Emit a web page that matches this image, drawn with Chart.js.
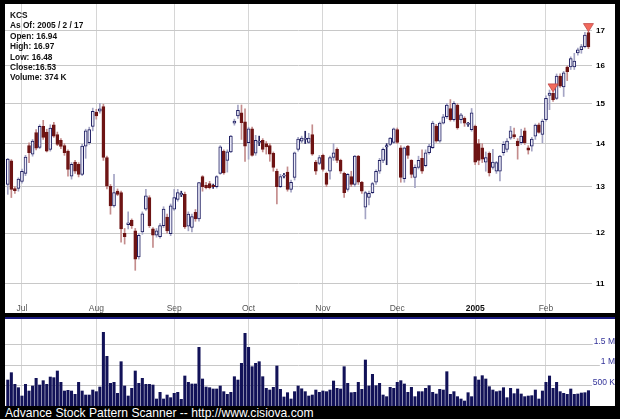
<!DOCTYPE html>
<html><head><meta charset="utf-8">
<script src="https://cdn.jsdelivr.net/npm/chart.js@4.4.0/dist/chart.umd.min.js"></script>
<style>
html,body{margin:0;padding:0;background:#000;width:620px;height:419px;overflow:hidden;}
#pw{position:absolute;left:5px;top:4px;width:610px;height:309px;background:#fff;}
#vw{position:absolute;left:5px;top:319px;width:610px;height:87px;background:#fff;}
#sep{position:absolute;left:5px;top:317px;width:610px;height:2px;background:#1a1a80;}
#info{position:absolute;left:10px;top:10px;font:bold 8.3px "Liberation Sans",Arial,sans-serif;line-height:10.4px;color:#111;}
#foot{position:absolute;left:5px;top:407px;font:12.1px "Liberation Sans",Arial,sans-serif;line-height:12px;color:#fff;white-space:nowrap;}
canvas{display:block;}
</style></head>
<body>
<div id="pw"><canvas id="pc" width="610" height="309"></canvas></div>
<div id="sep"></div>
<div id="vw"><canvas id="vc" width="610" height="87"></canvas></div>
<div id="info"></div>
<div id="foot">Advance Stock Pattern Scanner -- http://www.cisiova.com</div>
<script>
const ticker = 'KCS';
const asOf = '2005 / 2 / 17';
const monthIdx = [4, 25, 47, 68, 89, 110, 132, 152];
const monthLabels = ['Jul', 'Aug', 'Sep', 'Oct', 'Nov', 'Dec', '2005', 'Feb'];
const yTicks = [11, 12, 13, 14, 15, 16, 17];
const volTicks = [500, 1000, 1500];
const volTickLabels = ['500 K', '1 M', '1.5 M'];
const signalIdx = [154, 164];

const opens = [13.05,13.59,12.96,12.96,13.12,13.30,13.95,13.75,14.27,13.91,14.42,14.28,13.86,14.46,14.22,14.08,13.95,13.82,13.24,13.56,
13.51,13.28,13.94,14.02,14.42,14.78,14.80,14.92,13.67,13.01,12.58,12.90,12.87,12.00,12.18,12.27,12.05,11.52,12.03,12.51,
12.76,12.09,11.96,11.93,12.16,12.34,11.99,12.51,12.72,12.82,12.83,12.15,12.12,12.44,12.30,13.23,13.03,13.07,13.03,13.00,
13.30,13.82,13.60,13.80,14.50,14.68,14.76,14.53,14.02,14.36,13.77,14.03,14.08,14.00,13.95,13.77,13.35,13.00,13.24,13.33,
12.94,13.21,13.86,14.06,14.10,14.03,14.22,13.56,13.53,13.72,13.30,13.35,13.67,13.86,13.60,13.30,12.94,13.23,13.05,13.70,
13.10,12.55,12.76,12.87,13.10,13.35,13.60,13.92,13.98,14.03,14.34,13.90,13.18,13.94,13.60,13.21,13.44,13.65,13.48,13.78,
13.90,14.43,14.06,14.50,14.66,14.87,14.59,14.96,14.59,14.62,14.47,14.34,14.43,14.00,13.90,13.56,13.77,13.44,13.35,13.35,
13.78,13.86,14.13,14.22,14.06,14.02,14.31,13.90,13.94,14.18,14.46,14.22,14.59,15.21,15.26,15.13,15.72,15.43,15.97,15.97,
15.97,16.36,16.45,16.54,16.94];
const highs = [13.65,13.62,13.00,13.20,13.40,13.72,14.02,14.10,14.34,14.46,14.57,14.35,14.46,14.52,14.28,14.12,14.00,13.85,13.55,13.60,
13.55,13.98,14.35,14.40,14.88,14.85,15.00,14.98,13.70,13.05,13.28,12.95,12.90,12.10,12.45,12.30,12.10,12.00,12.45,12.94,
12.80,12.12,12.10,12.20,12.56,12.40,12.62,12.94,12.94,12.90,12.88,12.45,12.40,12.50,13.10,13.25,13.10,13.12,13.06,13.25,
13.95,13.85,13.85,14.20,14.60,14.96,14.96,14.86,14.40,14.40,14.20,14.18,14.12,14.05,14.00,13.80,13.40,13.28,13.30,13.45,
13.15,13.80,14.15,14.18,14.30,14.25,14.46,13.60,13.72,13.75,13.33,13.70,14.00,13.90,13.63,13.33,13.30,13.35,13.72,13.72,
13.12,12.90,12.90,13.10,13.38,13.65,13.90,14.00,14.15,14.38,14.38,13.95,13.92,13.96,13.62,13.50,13.70,13.85,13.85,13.98,
14.55,14.47,14.53,14.72,15.00,15.10,15.05,15.00,14.75,14.66,14.52,14.87,14.45,14.10,14.00,13.80,13.80,13.86,13.58,13.72,
14.05,14.12,14.42,14.38,14.12,14.35,14.38,13.95,14.15,14.48,14.50,14.60,15.20,15.35,15.30,15.78,15.78,15.85,16.00,16.25,
16.35,16.50,16.60,16.95,16.97];
const lows = [12.83,12.76,12.85,12.90,13.08,13.25,13.55,13.70,13.85,13.88,14.10,13.80,13.82,14.15,13.95,13.88,13.72,13.24,13.17,13.30,
13.22,13.25,13.65,13.98,14.31,14.60,14.75,13.60,12.95,12.40,12.55,12.80,11.82,11.78,12.09,12.10,11.26,11.48,11.98,12.48,
12.12,11.71,11.92,11.90,12.12,12.00,11.95,12.48,12.68,12.78,12.10,12.05,12.03,12.25,12.25,12.90,12.95,12.95,12.96,12.97,
13.28,13.28,13.33,13.78,14.45,14.62,14.10,13.58,13.63,13.70,13.72,13.95,13.80,13.75,13.58,13.35,12.62,12.98,13.20,12.90,
12.88,13.15,13.82,14.02,14.00,14.00,13.72,13.28,13.50,13.35,13.00,13.17,13.60,13.55,13.30,12.76,12.90,13.00,13.00,13.05,
12.85,12.30,12.60,12.85,13.05,13.30,13.55,13.50,13.95,14.00,14.00,13.10,13.10,13.65,13.20,12.98,13.40,13.30,13.45,13.75,
13.88,14.03,14.03,14.48,14.62,14.55,14.55,14.35,14.50,14.42,14.42,14.30,13.50,13.50,13.55,13.35,13.24,13.40,13.30,13.13,
13.72,13.80,14.10,14.12,13.63,13.98,13.98,13.75,13.82,14.10,14.25,14.02,14.55,14.84,15.05,15.10,15.42,15.18,15.60,15.90,
15.90,16.30,16.35,16.50,16.48];
const closes = [13.63,12.94,12.91,13.17,13.35,13.68,13.78,14.06,13.89,14.42,14.15,13.82,14.38,14.18,13.98,13.93,13.78,13.39,13.51,13.35,
13.28,13.94,14.31,14.34,14.80,14.68,14.86,13.67,13.01,12.58,12.87,12.83,12.09,11.93,12.22,12.16,11.48,11.96,12.41,12.80,
12.16,11.96,12.05,12.16,12.51,12.05,12.58,12.76,12.87,12.85,12.13,12.40,12.35,12.30,13.09,13.00,12.98,12.98,13.00,13.23,
13.92,13.31,13.80,14.18,14.55,14.82,14.51,13.94,14.36,13.72,14.08,14.05,13.86,13.92,13.75,13.44,13.00,13.23,13.26,12.94,
13.10,13.78,14.11,14.13,14.12,14.13,13.75,13.35,13.67,13.39,13.05,13.67,13.78,13.60,13.35,12.87,13.28,13.05,13.70,13.10,
12.90,12.87,12.85,13.07,13.35,13.60,13.86,13.95,14.13,14.36,14.03,13.21,13.90,13.72,13.28,13.44,13.60,13.35,13.78,13.94,
14.50,14.06,14.50,14.66,14.96,14.59,15.00,14.38,14.71,14.50,14.49,14.76,13.56,13.60,13.63,13.67,13.31,13.56,13.55,13.70,
13.98,14.06,14.31,14.16,13.95,14.18,14.02,13.84,14.11,14.45,14.27,14.55,15.13,15.27,15.10,15.72,15.45,15.81,15.84,16.20,
16.13,16.45,16.54,16.87,16.53];
const volumes = [634,813,528,447,244,528,366,488,675,512,618,528,707,691,854,577,366,382,366,285,
577,366,268,268,390,350,463,1797,1211,553,577,309,1081,488,244,431,854,553,675,528,
528,512,171,333,171,268,203,309,333,163,732,577,537,537,1431,659,463,447,415,415,
488,350,285,333,715,634,1041,1772,1431,959,1041,1081,715,431,390,455,976,407,220,325,
171,350,488,420,350,244,268,390,333,366,350,390,610,431,415,959,553,325,333,577,
407,1122,488,772,496,553,268,228,455,431,577,618,537,333,455,228,350,350,431,496,
333,293,407,390,837,285,350,228,171,122,325,228,715,634,740,659,472,390,350,366,
447,203,431,301,415,293,228,244,252,390,171,366,577,732,431,577,350,309,285,415,
285,293,317,325,374];

const FONT = '"Liberation Sans", Arial, sans-serif';
const xMin = -0.79, xMax = 165.0;
const volMax = 2122;
const idx = opens.map((_, i) => i);
const isUp = idx.map(i => closes[i] >= opens[i]);
const isDoji = idx.map(i => Math.abs(closes[i] - opens[i]) < 0.04);

// info box text
const L = closes.length - 1;
const infoLines = [ticker, 'As Of: ' + asOf, 'Open: ' + opens[L].toFixed(2), 'High: ' + highs[L].toFixed(2),
  'Low: ' + lows[L].toFixed(2), 'Close:' + closes[L].toFixed(2), 'Volume: ' + volumes[L] + ' K'];
const info = document.getElementById('info');
infoLines.forEach(t => { const d = document.createElement('div'); d.textContent = t; info.appendChild(d); });

const noPad = a => { a.paddingTop = 0; a.paddingBottom = 0; a.paddingLeft = 0; a.paddingRight = 0; };

const markerPlugin = {
  id: 'markers',
  afterDatasetsDraw(chart) {
    const {ctx, scales: {x, y}} = chart;
    ctx.save();
    signalIdx.forEach(i => {
      const px = x.getPixelForValue(i), py = y.getPixelForValue(highs[i]);
      ctx.beginPath();
      ctx.moveTo(px - 5, py - 8);
      ctx.lineTo(px + 5, py - 8);
      ctx.lineTo(px, py);
      ctx.closePath();
      ctx.fillStyle = '#f26a5c';
      ctx.fill();
      ctx.strokeStyle = '#c04848';
      ctx.lineWidth = 0.8;
      ctx.stroke();
    });
    ctx.restore();
  }
};

const xScaleBase = (showLabels) => ({
  type: 'linear', min: xMin, max: xMax, offset: false,
  afterBuildTicks: a => { a.ticks = monthIdx.map(v => ({value: v})); },
  afterFit: a => { a.height = showLabels ? 13 : 0; noPad(a); },
  grid: {color: '#d6d6d6', lineWidth: 1, offset: false, drawTicks: showLabels, tickLength: 13, tickColor: '#d6d6d6'},
  border: {display: false},
  ticks: {
    display: showLabels, autoSkip: false, maxRotation: 0, minRotation: 0, padding: -9,
    color: c => monthLabels[c.index] === '2005' ? '#111' : '#555',
    font: c => ({family: FONT, size: 8.5, weight: monthLabels[c.index] === '2005' ? 'bold' : 'normal'}),
    callback: v => monthLabels[monthIdx.indexOf(v)]
  }
});

new Chart(document.getElementById('pc'), {
  type: 'bar',
  data: {
    datasets: [
      {
        label: 'body', order: 0, grouped: false, barThickness: 3, borderWidth: 1, borderSkipped: false, minBarLength: 1,
        data: idx.map(i => ({x: i, y: [opens[i], closes[i]]})),
        backgroundColor: idx.map(i => isUp[i] ? '#ececf8' : '#6e1414'),
        borderColor: idx.map(i => isUp[i] ? '#1c1c60' : '#6e1414')
      },
      {
        label: 'wick', order: 1, grouped: false, barThickness: 1, borderWidth: 0,
        data: idx.map(i => ({x: i, y: [lows[i], highs[i]]})),
        backgroundColor: idx.map(i => isDoji[i] ? '#23235f' : (isUp[i] ? '#a4a4c4' : '#c48c8c'))
      }
    ]
  },
  options: {
    responsive: false, animation: false, events: [],
    layout: {padding: 0},
    plugins: {legend: {display: false}, tooltip: {enabled: false}},
    scales: {
      x: xScaleBase(true),
      y: {
        type: 'logarithmic', position: 'right', min: 10.722, max: 17.795,
        afterBuildTicks: a => { a.ticks = yTicks.map(v => ({value: v})); },
        afterFit: a => { a.width = 23; noPad(a); },
        grid: {color: '#c8c8c8', drawTicks: false},
        border: {display: false},
        ticks: {padding: 4, color: '#000', font: {family: FONT, size: 8, weight: 'bold'}, callback: v => String(v)}
      }
    }
  },
  plugins: [markerPlugin]
});

new Chart(document.getElementById('vc'), {
  type: 'bar',
  data: {
    datasets: [{
      label: 'volume', grouped: false, barThickness: 2.4, borderWidth: 0,
      data: idx.map(i => ({x: i, y: volumes[i]})),
      backgroundColor: '#121258'
    }]
  },
  options: {
    responsive: false, animation: false, events: [],
    layout: {padding: 0},
    plugins: {legend: {display: false}, tooltip: {enabled: false}},
    scales: {
      x: xScaleBase(false),
      y: {
        position: 'right', min: 0, max: volMax,
        afterBuildTicks: a => { a.ticks = volTicks.map(v => ({value: v})); },
        afterFit: a => { a.width = 23; noPad(a); },
        grid: {color: '#c8c8c8', drawTicks: true, tickLength: 23, tickColor: '#c8c8c8'},
        border: {display: false},
        ticks: {
          crossAlign: 'far', padding: 0, labelOffset: -3, color: '#333399',
          font: {family: FONT, size: 8.5},
          showLabelBackdrop: true, backdropColor: '#ffffff', backdropPadding: 1,
          callback: v => volTickLabels[volTicks.indexOf(v)]
        }
      }
    }
  }
});
</script>
</body></html>
